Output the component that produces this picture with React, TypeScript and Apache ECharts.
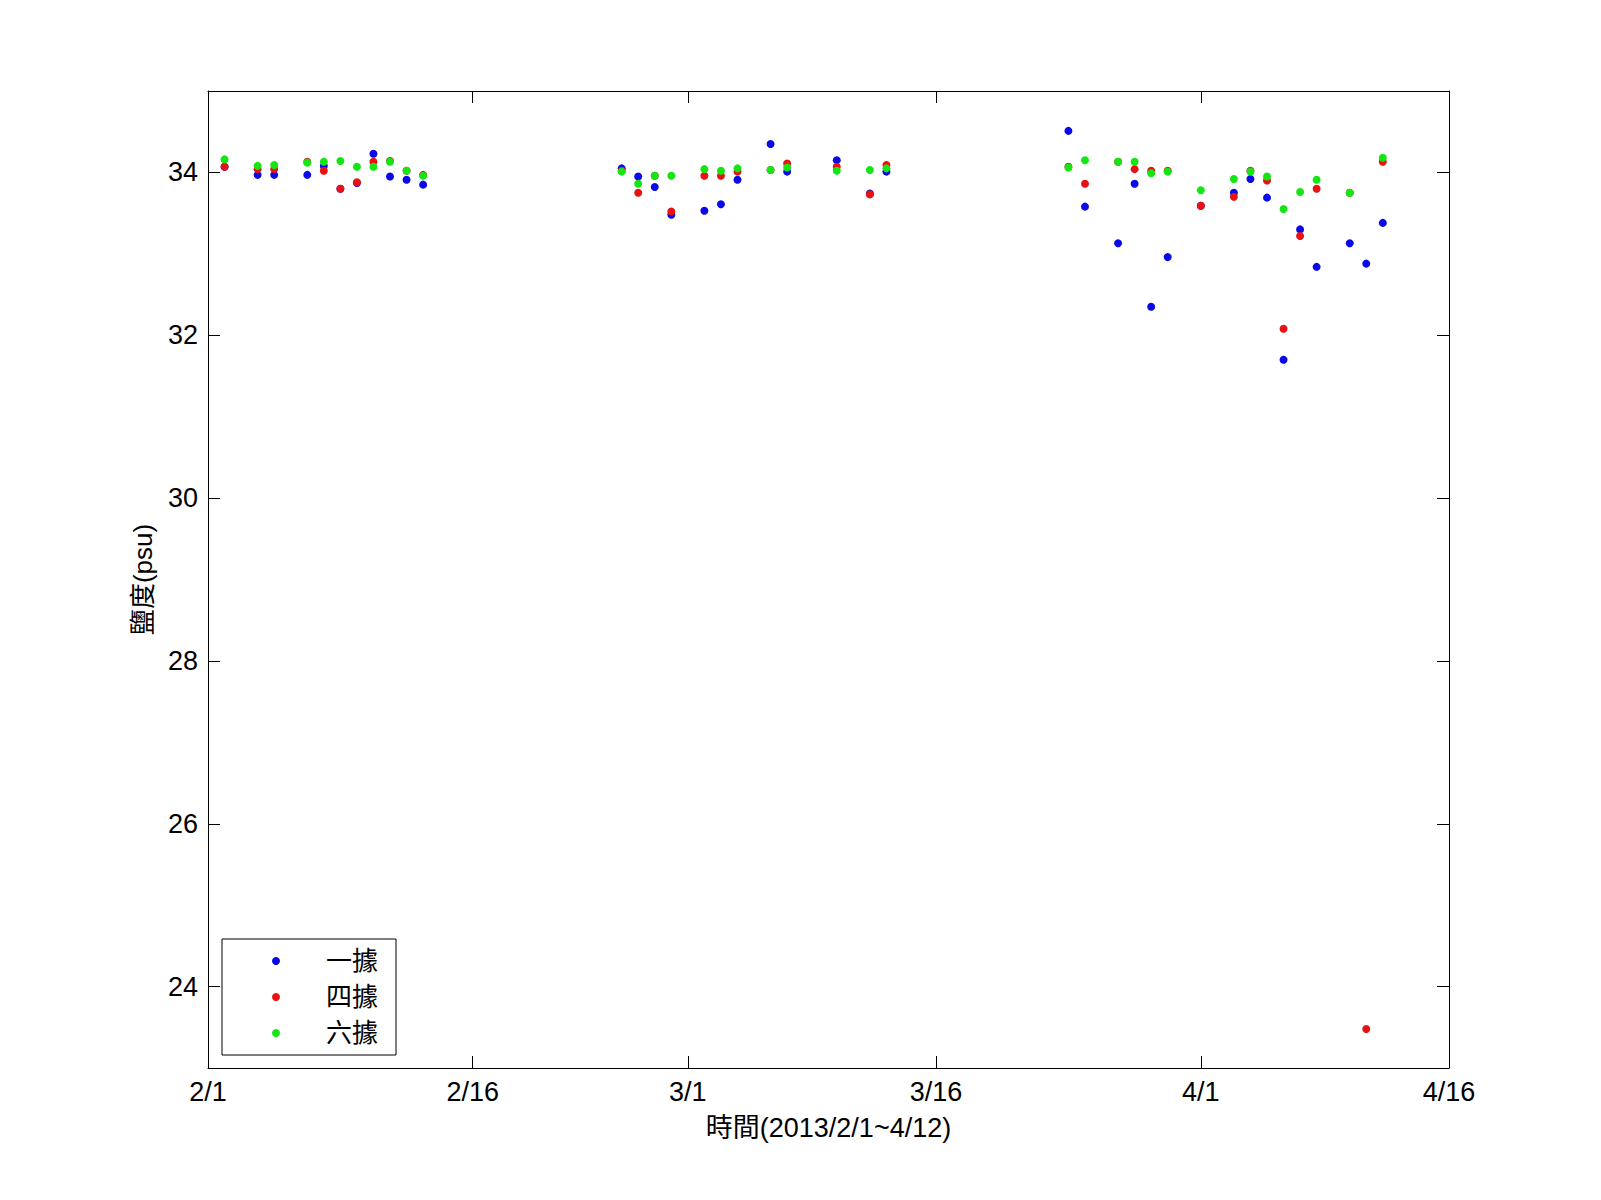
import React, { useEffect, useRef } from "react";
import * as echarts from "echarts";

// Day index: 2/1 = day 1 (axis runs from day 0 to day 75 = 4/16)
const days = [1, 3, 4, 6, 7, 8, 9, 10, 11, 12, 13, 25, 26, 27, 28, 30, 31, 32, 34, 35, 38, 40, 41, 52, 53, 55, 56, 57, 58, 60, 62, 63, 64, 65, 66, 67, 69, 70, 71];

const station1: (number | null)[] = [34.07, 33.97, 33.97, 33.97, 34.08, 33.80, 33.87, 34.23, 33.95, 33.91, 33.85, 34.05, 33.95, 33.82, 33.48, 33.53, 33.61, 33.91, 34.35, 34.01, 34.15, 33.74, 34.01, 34.51, 33.58, 33.13, 33.86, 32.35, 32.96, 33.59, 33.75, 33.92, 33.69, 31.70, 33.30, 32.84, 33.13, 32.88, 33.38];

const station4: (number | null)[] = [34.07, 34.04, 34.04, 34.13, 34.02, 33.80, 33.88, 34.13, 34.14, 34.02, 33.97, 34.02, 33.75, 33.96, 33.52, 33.96, 33.96, 34.01, 34.03, 34.11, 34.07, 33.73, 34.09, 34.07, 33.86, 34.13, 34.04, 34.02, 34.02, 33.59, 33.70, 34.02, 33.90, 32.08, 33.22, 33.80, 33.75, 23.48, 34.13];

const station6: (number | null)[] = [34.16, 34.08, 34.09, 34.12, 34.13, 34.14, 34.07, 34.07, 34.13, 34.02, 33.96, 34.01, 33.86, 33.96, 33.96, 34.04, 34.02, 34.05, 34.03, 34.06, 34.02, 34.03, 34.05, 34.06, 34.15, 34.13, 34.13, 33.99, 34.01, 33.78, 33.92, 34.01, 33.95, 33.55, 33.76, 33.91, 33.75, null, 34.18];

const seriesNames = ["一據", "四據", "六據"];
const seriesColors = ["#0a0ae6", "#e81212", "#14e614"];

const xTickDays = [0, 16, 29, 44, 60, 75];
const xTickLabels = ["2/1", "2/16", "3/1", "3/16", "4/1", "4/16"];
const yTicks = [24, 26, 28, 30, 32, 34];

const FONT = "'Liberation Sans', Arial, 'Noto Sans CJK TC', sans-serif";

function pairs(vals: (number | null)[]) {
  const out: [number, number][] = [];
  days.forEach((d, i) => {
    const v = vals[i];
    if (v !== null && v !== undefined) out.push([d, v]);
  });
  return out;
}

export default function App() {
  const ref = useRef<HTMLDivElement>(null);
  useEffect(() => {
    if (!ref.current) return;
    const chart = echarts.init(ref.current, undefined, { renderer: "svg" });
    const xFmt = (v: number) => {
      const i = xTickDays.indexOf(v);
      return i >= 0 ? xTickLabels[i] : "";
    };
    const common = {
      type: "value" as const,
      min: 0,
      max: 75,
      splitLine: { show: false },
      axisLine: { show: true, onZero: false, lineStyle: { color: "#000", width: 1 } },
    };
    const commonY = {
      type: "value" as const,
      min: 23,
      max: 35,
      splitLine: { show: false },
      axisLine: { show: true, onZero: false, lineStyle: { color: "#000", width: 1 } },
    };
    chart.setOption({
      animation: false,
      backgroundColor: "#fff",
      textStyle: { fontFamily: FONT },
      grid: { left: 208, top: 91, width: 1241, height: 977, containLabel: false },
      xAxis: [
        {
          ...common,
          position: "bottom",
          name: "時間(2013/2/1~4/12)",
          nameLocation: "middle",
          nameGap: 46,
          nameTextStyle: { fontSize: 27, color: "#000", fontFamily: FONT },
          axisTick: { show: true, inside: true, length: 12, customValues: xTickDays, lineStyle: { color: "#000" } },
          axisLabel: {
            show: true,
            customValues: xTickDays,
            formatter: xFmt,
            fontSize: 27,
            color: "#000",
            margin: 10,
            fontFamily: FONT,
            showMinLabel: true,
            showMaxLabel: true,
          },
        },
        {
          ...common,
          position: "top",
          axisTick: { show: true, inside: true, length: 12, customValues: xTickDays, lineStyle: { color: "#000" } },
          axisLabel: { show: false },
        },
      ],
      yAxis: [
        {
          ...commonY,
          position: "left",
          name: "鹽度(psu)",
          nameLocation: "middle",
          nameGap: 52,
          nameTextStyle: { fontSize: 26, color: "#000", fontFamily: FONT },
          axisTick: { show: true, inside: true, length: 12, customValues: yTicks, lineStyle: { color: "#000" } },
          axisLabel: {
            show: true,
            customValues: yTicks,
            fontSize: 27,
            color: "#000",
            margin: 10,
            fontFamily: FONT,
          },
        },
        {
          ...commonY,
          position: "right",
          axisTick: { show: true, inside: true, length: 12, customValues: yTicks, lineStyle: { color: "#000" } },
          axisLabel: { show: false },
        },
      ],
      legend: {
        show: true,
        orient: "vertical",
        left: 222,
        top: 939,
        padding: [9, 18, 9, 50],
        itemGap: 10,
        itemWidth: 8,
        itemHeight: 8,
        icon: "circle",
        borderColor: "#000",
        borderWidth: 1,
        backgroundColor: "#fff",
        textStyle: { fontSize: 26, lineHeight: 26, color: "#000", fontFamily: FONT, padding: [0, 0, 0, 41] },
        data: seriesNames,
      },
      series: [station1, station4, station6].map((vals, i) => ({
        type: "scatter",
        name: seriesNames[i],
        xAxisIndex: 0,
        yAxisIndex: 0,
        symbol: "circle",
        symbolSize: 8,
        itemStyle: { color: seriesColors[i], opacity: 1 },
        emphasis: { disabled: true },
        data: pairs(vals),
      })),
    });
    return () => chart.dispose();
  }, []);
  return (
    <div
      ref={ref}
      style={{ position: "fixed", left: 0, top: 0, width: 1601, height: 1200, background: "#fff" }}
    />
  );
}
